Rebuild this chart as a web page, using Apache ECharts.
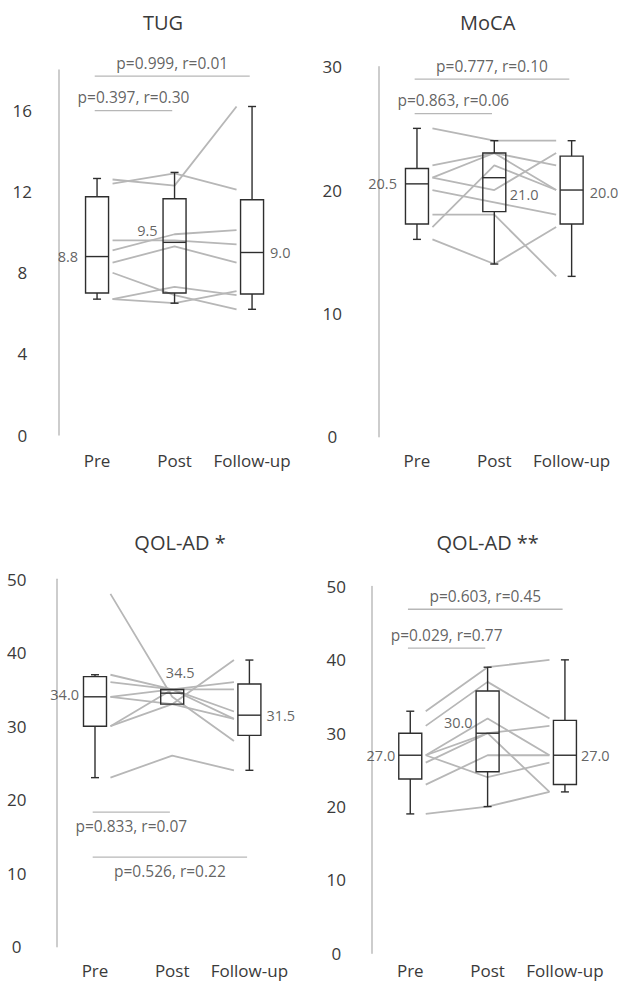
<!DOCTYPE html>
<html>
<head>
<meta charset="utf-8">
<script src="https://cdn.jsdelivr.net/npm/echarts@6/dist/echarts.min.js"></script>
<style>
html,body{margin:0;padding:0;background:#ffffff;}
#chart{width:622px;height:985px;}
</style>
</head>
<body>
<div id="chart"></div>
<script>
// ---------------- DATA ----------------
const categories = ['Pre', 'Post', 'Follow-up'];
const titles = ['TUG', 'MoCA', 'QOL-AD *', 'QOL-AD **'];

// y-axis tick labels
const tugTicks  = [0, 4, 8, 12, 16];
const mocaTicks = [0, 10, 20, 30];
const qolATicks = [0, 10, 20, 30, 40, 50];
const qolBTicks = [0, 10, 20, 30, 40, 50];

// box statistics per time point: [min, Q1, median, Q3, max]
const tugBox  = [[6.7, 7.0, 8.8, 11.75, 12.65], [6.5, 7.0, 9.5, 11.65, 12.95], [6.2, 6.95, 9.0, 11.6, 16.2]];
const mocaBox = [[16, 17.25, 20.5, 21.75, 25], [14, 18.25, 21.0, 23, 24], [13, 17.25, 20.0, 22.75, 24]];
const qolABox = [[23, 30, 34.0, 36.75, 37], [33, 33, 34.5, 35, 35], [24, 28.75, 31.5, 35.75, 39]];
const qolBBox = [[19, 23.75, 27.0, 30, 33], [20, 24.75, 30.0, 35.75, 39], [22, 23, 27.0, 31.75, 40]];

// individual trajectories: [Pre, Post, Follow-up]
const tugSubjects  = [[12.6, 12.3, 16.2], [12.4, 12.9, 12.1], [9.6, 9.6, 9.4], [9.1, 9.9, 10.1],
                      [8.5, 9.3, 8.5], [8.0, 6.9, 6.2], [6.7, 6.5, 7.1], [6.7, 7.3, 6.9]];
const mocaSubjects = [[25, 24, 24], [22, 23, 22], [21, 23, 20], [21, 20, 23],
                      [20, 19, 18], [18, 18, 13], [17, 22, 20], [16, 14, 17]];
const qolASubjects = [[48, 34, 28], [37, 35, 32], [36, 35, 31], [34, 35, 35],
                      [34, 33, 31], [30, 33, 39], [30, 35, 36], [23, 26, 24]];
const qolBSubjects = [[33, 39, 40], [31, 37, 32], [27, 32, 27], [27, 30, 22],
                      [27, 24, 26], [26, 30, 31], [23, 27, 27], [19, 20, 22]];

// pairwise comparisons (category index pairs) and their results
const tugPairs  = [[0, 2], [0, 1]];
const tugTests  = ['p=0.999, r=0.01', 'p=0.397, r=0.30'];
const mocaPairs = [[0, 2], [0, 1]];
const mocaTests = ['p=0.777, r=0.10', 'p=0.863, r=0.06'];
const qolAPairs = [[0, 1], [0, 2]];
const qolATests = ['p=0.833, r=0.07', 'p=0.526, r=0.22'];
const qolBPairs = [[0, 2], [0, 1]];
const qolBTests = ['p=0.603, r=0.45', 'p=0.029, r=0.77'];

// ---------------- LAYOUT ----------------
const FONT = '"Open Sans", "Noto Sans", sans-serif';
const TEXT = '#3a3a3a';
const GRAY = '#b7b7b7';
const BOX_W = 23, CAP_W = 8;
const LINE_X = [0.7, 1.5, 2.3];   // x positions (value axis) for trajectory vertices

const panels = [
  { title: titles[0], ticks: tugTicks, box: tugBox, subjects: tugSubjects, pairs: tugPairs, tests: tugTests,
    grid: { left: 58.3, top: 70, width: 232.5, height: 365 }, yMax: 18, yOffset: 16, yLabelMargin: 20, xLabelMargin: 16.5,
    titlePos: [163, 12], bracketLevels: [17.7, 16.0], bracketLabelPos: 'top',
    medianLabels: [{ dx: -19, dy: 0, align: 'right' }, { dx: -17, dy: -12, align: 'right' }, { dx: 18, dy: 0, align: 'left' }] },
  { title: titles[1], ticks: mocaTicks, box: mocaBox, subjects: mocaSubjects, pairs: mocaPairs, tests: mocaTests,
    grid: { left: 378.3, top: 66.7, width: 232, height: 370 }, yMax: 30, yOffset: 24, yLabelMargin: 22, xLabelMargin: 15,
    titlePos: [487.7, 12], bracketLevels: [29.0, 26.2], bracketLabelPos: 'top',
    medianLabels: [{ dx: -20, dy: 0, align: 'right' }, { dx: 15.5, dy: 17, align: 'left' }, { dx: 18, dy: 2, align: 'left' }] },
  { title: titles[2], ticks: qolATicks, box: qolABox, subjects: qolASubjects, pairs: qolAPairs, tests: qolATests,
    grid: { left: 56.4, top: 579.2, width: 231.6, height: 367.5 }, yMax: 50, yOffset: 15.7, yLabelMargin: 24, xLabelMargin: 15,
    titlePos: [180, 532], bracketLevels: [18.3, 12.2], bracketLabelPos: 'bottom',
    medianLabels: [{ dx: -16, dy: -2, align: 'right' }, { dx: 8, dy: -21, align: 'center' }, { dx: 17, dy: 0, align: 'left' }] },
  { title: titles[3], ticks: qolBTicks, box: qolBBox, subjects: qolBSubjects, pairs: qolBPairs, tests: qolBTests,
    grid: { left: 371.6, top: 586.5, width: 232, height: 366.8 }, yMax: 50, yOffset: 17.3, yLabelMargin: 18, xLabelMargin: 9,
    titlePos: [487.7, 532], bracketLevels: [46.9, 41.6], bracketLabelPos: 'top',
    medianLabels: [{ dx: -15, dy: 0, align: 'right' }, { dx: -15, dy: -11, align: 'right' }, { dx: 16, dy: 0, align: 'left' }] }
];

// ---------------- OPTION ----------------
const grid = [], xAxis = [], yAxis = [], series = [], title = [];

function renderBox(params, api) {
  const x = api.value(0);
  const pMin = api.coord([x, api.value(1)]);
  const pQ1  = api.coord([x, api.value(2)]);
  const pMed = api.coord([x, api.value(3)]);
  const pQ3  = api.coord([x, api.value(4)]);
  const pMax = api.coord([x, api.value(5)]);
  const cx = pMed[0], hw = BOX_W / 2, hc = CAP_W / 2;
  const st = { stroke: '#2e2e2e', lineWidth: 1.4, fill: null };
  const children = [];
  if (pMax[1] < pQ3[1] - 0.5) {
    children.push({ type: 'line', shape: { x1: cx, y1: pMax[1], x2: cx, y2: pQ3[1] }, style: st });
    children.push({ type: 'line', shape: { x1: cx - hc, y1: pMax[1], x2: cx + hc, y2: pMax[1] }, style: st });
  }
  if (pMin[1] > pQ1[1] + 0.5) {
    children.push({ type: 'line', shape: { x1: cx, y1: pQ1[1], x2: cx, y2: pMin[1] }, style: st });
    children.push({ type: 'line', shape: { x1: cx - hc, y1: pMin[1], x2: cx + hc, y2: pMin[1] }, style: st });
  }
  children.push({ type: 'rect', shape: { x: cx - hw, y: pQ3[1], width: BOX_W, height: pQ1[1] - pQ3[1] }, style: st });
  children.push({ type: 'line', shape: { x1: cx - hw, y1: pMed[1], x2: cx + hw, y2: pMed[1] }, style: st });
  return { type: 'group', children: children };
}

panels.forEach(function (p, g) {
  grid.push(Object.assign({ containLabel: false }, p.grid));
  title.push({
    text: p.title, left: p.titlePos[0], top: p.titlePos[1], textAlign: 'center', padding: 0,
    textStyle: { fontFamily: FONT, fontSize: 20, fontWeight: 'normal', color: TEXT }
  });
  // category axis (labels)
  xAxis[g] = {
    type: 'category', gridIndex: g, data: categories, boundaryGap: true,
    axisLine: { show: false }, axisTick: { show: false }, splitLine: { show: false },
    axisLabel: { margin: p.xLabelMargin, fontFamily: FONT, fontSize: 17, color: TEXT, interval: 0 }
  };
  // hidden value axis sharing the same grid, used to place trajectories and annotations
  xAxis[4 + g] = { type: 'value', gridIndex: g, min: 0, max: 3, show: false };
  yAxis.push({
    type: 'value', gridIndex: g, min: p.ticks[0], max: p.yMax, interval: p.ticks[1] - p.ticks[0],
    offset: p.yOffset,
    axisLine: { show: true, lineStyle: { color: '#bdbdbd', width: 1.5 } },
    axisTick: { show: false }, splitLine: { show: false },
    axisLabel: { showMaxLabel: p.ticks[p.ticks.length - 1] === p.yMax, align: 'center', margin: p.yLabelMargin,
                 fontFamily: FONT, fontSize: 17, color: TEXT }
  });

  // individual trajectories
  p.subjects.forEach(function (s) {
    series.push({
      type: 'line', xAxisIndex: 4 + g, yAxisIndex: g, silent: true, animation: false, z: 2,
      symbol: 'none', lineStyle: { color: GRAY, width: 1.8 },
      data: s.map(function (v, i) { return [LINE_X[i], v]; })
    });
  });

  // box plots
  series.push({
    type: 'custom', xAxisIndex: g, yAxisIndex: g, silent: true, animation: false, z: 5,
    renderItem: renderBox,
    encode: { x: 0, y: [1, 2, 3, 4, 5] },
    data: p.box.map(function (b, i) { return [i].concat(b); })
  });

  // median labels
  series.push({
    type: 'scatter', xAxisIndex: 4 + g, yAxisIndex: g, silent: true, animation: false, z: 6,
    symbolSize: 1, itemStyle: { color: 'rgba(0,0,0,0)' },
    data: p.box.map(function (b, i) {
      const m = p.medianLabels[i];
      return {
        value: [i + 0.5, b[2]],
        label: { show: true, position: 'inside', offset: [m.dx, m.dy], align: m.align, verticalAlign: 'middle',
                 formatter: b[2].toFixed(1), fontFamily: FONT, fontSize: 14.5, color: TEXT }
      };
    })
  });

  // comparison brackets
  p.pairs.forEach(function (pr, k) {
    const y = p.bracketLevels[k];
    const x0 = pr[0] + 0.5 - 0.03, x1 = pr[1] + 0.5 - 0.03;
    series.push({
      type: 'line', xAxisIndex: 4 + g, yAxisIndex: g, silent: true, animation: false, clip: false, z: 2,
      symbol: 'none', lineStyle: { color: GRAY, width: 1.3 },
      data: [[x0, y], [x1, y]]
    });
    series.push({
      type: 'scatter', xAxisIndex: 4 + g, yAxisIndex: g, silent: true, animation: false, clip: false, z: 6,
      symbolSize: 1, itemStyle: { color: 'rgba(0,0,0,0)' },
      data: [{
        value: [(x0 + x1) / 2, y],
        label: { show: true, position: p.bracketLabelPos, distance: 5, formatter: p.tests[k],
                 fontFamily: FONT, fontSize: 15.5, color: TEXT }
      }]
    });
  });
});

const chart = echarts.init(document.getElementById('chart'), null, { renderer: 'svg' });
chart.setOption({
  animation: false,
  backgroundColor: '#ffffff',
  title: title,
  grid: grid,
  xAxis: xAxis,
  yAxis: yAxis,
  series: series
});
</script>
</body>
</html>
